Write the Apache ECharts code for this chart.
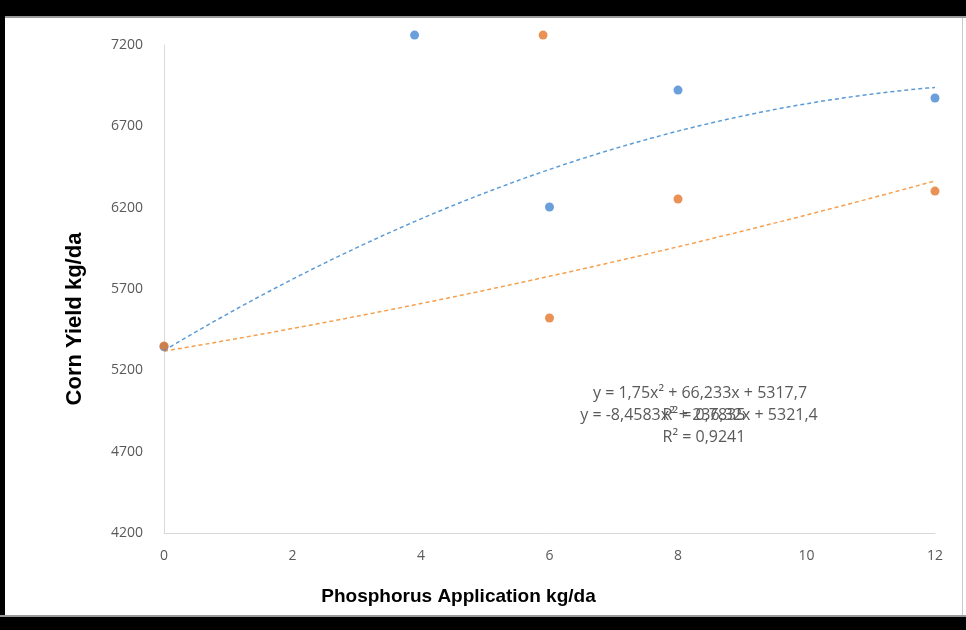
<!DOCTYPE html>
<html>
<head>
<meta charset="utf-8">
<script src="https://cdn.jsdelivr.net/npm/echarts@6/dist/echarts.min.js"></script>
<style>html,body{margin:0;padding:0;background:#fff;}#c{width:966px;height:630px;}</style>
</head>
<body>
<div id="c"></div>
<script>
// Observed points (Phosphorus kg/da, Corn yield kg/da)
const blueX = [0, 3.9, 6, 8, 12];
const blueY = [5345, 7261, 6204, 6923, 6874];
const orangeX = [0, 5.9, 6, 8, 12];
const orangeY = [5350, 7261, 5522, 6253, 6302];
const blueTrendCoef = [-8.4583, 236.32, 5321.4];
const orangeTrendCoef = [1.75, 66.233, 5317.7];
const trendRange = [0, 12];
const xTicks = [0, 2, 4, 6, 8, 10, 12];
const yTicks = [4200, 4700, 5200, 5700, 6200, 6700, 7200];
const eqOrange = ['y = 1,75x² + 66,233x + 5317,7', 'R² = 0,7835'];
const eqBlue = ['y = -8,4583x² + 236,32x + 5321,4', 'R² = 0,9241'];
const xTitle = 'Phosphorus Application kg/da';
const yTitle = 'Corn Yield kg/da';

function pairs(xs, ys){ return xs.map((x,i)=>[x, ys[i]]); }
function trend(coef){
  const out = [];
  const n = 96;
  for (let i=0;i<=n;i++){
    const x = trendRange[0] + (trendRange[1]-trendRange[0])*i/n;
    out.push([x, coef[0]*x*x + coef[1]*x + coef[2]]);
  }
  return out;
}

const chart = echarts.init(document.getElementById('c'), null, {renderer:'canvas'});
const tickFont = {color:'#595959', fontSize:14, fontFamily:'"Open Sans", sans-serif'};
const eqStyle = {fill:'#595959', fontSize:16, fontFamily:'"Open Sans", sans-serif', align:'center', verticalAlign:'middle'};
chart.setOption({
  animation:false,
  backgroundColor:'#fff',
  grid:{left:164, right:31, top:45, bottom:97, containLabel:false},
  xAxis:{
    type:'value', min:xTicks[0], max:xTicks[xTicks.length-1], interval:2,
    axisLine:{show:true, lineStyle:{color:'#d9d9d9', width:1}},
    axisTick:{show:false}, splitLine:{show:false},
    axisLabel:Object.assign({margin:16, formatter:v=>String(v)}, tickFont),
    name:xTitle, nameLocation:'middle', nameGap:54,
    nameTextStyle:{color:'#000', fontSize:19, fontWeight:'bold', fontFamily:'"Liberation Sans", Arial, sans-serif', padding:[0,182,0,0]}
  },
  yAxis:{
    type:'value', min:yTicks[0], max:yTicks[yTicks.length-1], interval:500,
    axisLine:{show:true, lineStyle:{color:'#d9d9d9', width:1}},
    axisTick:{show:false}, splitLine:{show:false},
    axisLabel:Object.assign({margin:21, formatter:v=>String(v)}, tickFont),
    name:yTitle, nameLocation:'middle', nameGap:78,
    nameTextStyle:{color:'#000', fontSize:22, fontWeight:'bold', fontFamily:'"Liberation Sans", Arial, sans-serif', padding:[0,60,0,0]}
  },
  series:[
    {type:'line', data:trend(blueTrendCoef), showSymbol:false, symbol:'none', smooth:false, z:2,
     lineStyle:{color:'#5b9bd5', width:1.5, type:[4,3]}},
    {type:'line', data:trend(orangeTrendCoef), showSymbol:false, symbol:'none', smooth:false, z:2,
     lineStyle:{color:'#f4a04f', width:1.5, type:[4,3]}},
    {type:'scatter', data:pairs(blueX, blueY), symbolSize:9, clip:false, z:3,
     itemStyle:{color:'#4587d2'}},
    {type:'scatter', data:pairs(orangeX, orangeY), symbolSize:9, clip:false, z:4,
     itemStyle:{color:'#e5772a'}}
  ],
  graphic:[
    {type:'text', x:700, y:393, style:Object.assign({text:eqOrange[0]}, eqStyle)},
    {type:'text', x:704, y:415, style:Object.assign({text:eqOrange[1]}, eqStyle)},
    {type:'text', x:699, y:415, style:Object.assign({text:eqBlue[0]}, eqStyle)},
    {type:'text', x:704, y:437, style:Object.assign({text:eqBlue[1]}, eqStyle)},
    {type:'rect', shape:{x:0,y:0,width:966,height:16}, style:{fill:'#000'}, z:100},
    {type:'rect', shape:{x:0,y:16,width:966,height:2}, style:{fill:'#9a9a9a'}, z:100},
    {type:'rect', shape:{x:0,y:0,width:5,height:630}, style:{fill:'#000'}, z:100},
    {type:'rect', shape:{x:0,y:617,width:966,height:13}, style:{fill:'#000'}, z:100},
    {type:'rect', shape:{x:0,y:615,width:966,height:2}, style:{fill:'#9a9a9a'}, z:100},
    {type:'rect', shape:{x:962,y:18,width:1,height:597}, style:{fill:'#c8c8c8'}, z:100}
  ]
});
</script>
</body>
</html>
